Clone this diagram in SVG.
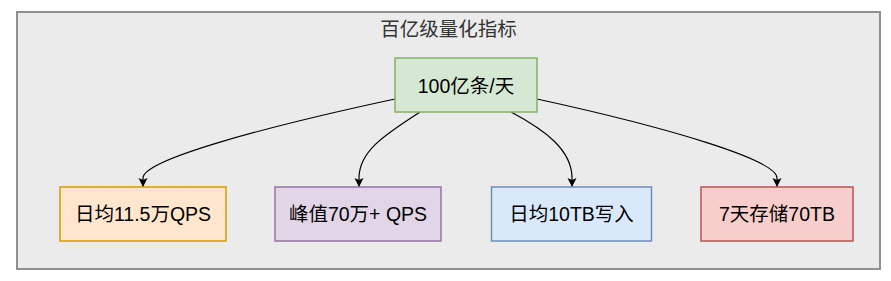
<svg xmlns="http://www.w3.org/2000/svg" width="891" height="281" viewBox="0 0 891 281">
<defs>
<marker id="arr" markerUnits="userSpaceOnUse" markerWidth="10" markerHeight="10" refX="9" refY="4.5" orient="auto" viewBox="0 0 10 10">
<path d="M0,0 L9,4.5 L0,9 L2,4.5 Z" fill="#000"/>
</marker>
<style>
.t{font-family:"Liberation Sans","Noto Sans CJK SC",sans-serif;font-size:19.5px;text-anchor:middle;fill:#000}
.title{fill:#333333}
.box{stroke-width:1.5}
.edge{fill:none;stroke:#000;stroke-width:1.2;marker-end:url(#arr)}
</style>
</defs>
<g id="container">
<rect x="17" y="12" width="863" height="257" fill="#ebebeb" stroke="#909090" stroke-width="2"/>
<text class="t title" x="448.5" y="36">百亿级量化指标</text>
</g>
<g id="connectors">
<path class="edge" d="M395,99 C260,128 143,160 143,178 L143,187"/>
<path class="edge" d="M420,112 C388,133 359,150 359,178 L359,187"/>
<path class="edge" d="M511,112 C545,130 572,150 572,178 L572,187"/>
<path class="edge" d="M537,99 C670,128 777,160 777,178 L777,187"/>
</g>
<g id="root">
<rect class="box" x="395" y="58" width="142" height="54" fill="#d5e8d4" stroke="#82b366"/>
<text class="t" x="466" y="92.5">100亿条/天</text>
</g>
<g id="qps-avg">
<rect class="box" x="60" y="187" width="166" height="54" fill="#ffe6cc" stroke="#d79b00"/>
<text class="t" x="143" y="221">日均11.5万QPS</text>
</g>
<g id="qps-peak">
<rect class="box" x="275" y="187" width="166" height="54" fill="#e1d5e7" stroke="#9673a6"/>
<text class="t" x="358" y="221">峰值70万+ QPS</text>
</g>
<g id="write">
<rect class="box" x="491.5" y="187" width="160" height="54" fill="#dae8fc" stroke="#6c8ebf"/>
<text class="t" x="571.5" y="221">日均10TB写入</text>
</g>
<g id="storage">
<rect class="box" x="701" y="187" width="152" height="54" fill="#f8cecc" stroke="#b85450"/>
<text class="t" x="777" y="221">7天存储70TB</text>
</g>
</svg>
